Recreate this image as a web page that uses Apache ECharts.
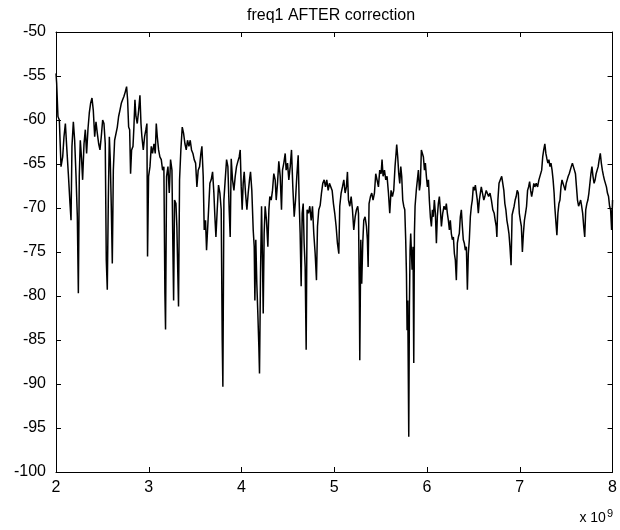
<!DOCTYPE html>
<html>
<head>
<meta charset="utf-8">
<script src="https://cdn.jsdelivr.net/npm/echarts@6/dist/echarts.min.js"></script>
<style>html,body{margin:0;padding:0;background:#fff}#c{width:620px;height:530px}</style>
</head>
<body>
<div id="c"></div>
<script>
// Frequency in units of 1e9 (Hz), values in dB
const freq = [
2.000,2.007,2.021,2.036,2.054,2.072,2.086,2.101,2.115,2.133,2.151,2.162,2.172,2.187,2.201,2.216,2.230,2.241,2.251,2.262,
2.276,2.287,2.302,2.316,2.330,2.345,2.359,2.373,2.388,2.402,2.417,2.431,2.445,2.460,2.474,2.488,2.503,2.517,2.531,2.542,
2.553,2.564,2.575,2.585,2.596,2.607,2.618,2.632,2.646,2.661,2.675,2.689,2.704,2.718,2.733,2.747,2.761,2.772,2.783,2.794,
2.804,2.815,2.830,2.840,2.851,2.862,2.876,2.891,2.905,2.916,2.926,2.941,2.955,2.969,2.980,2.987,2.998,3.013,3.027,3.041,
3.056,3.070,3.081,3.092,3.106,3.120,3.135,3.149,3.163,3.174,3.181,3.192,3.207,3.221,3.235,3.250,3.260,3.268,3.278,3.293,
3.303,3.314,3.321,3.332,3.346,3.361,3.375,3.390,3.404,3.418,3.433,3.447,3.461,3.476,3.490,3.505,3.519,3.533,3.548,3.562,
3.573,3.587,3.598,3.612,3.623,3.630,3.645,3.659,3.673,3.688,3.702,3.713,3.724,3.738,3.752,3.767,3.781,3.792,3.799,3.810,
3.824,3.839,3.853,3.867,3.878,3.889,3.903,3.918,3.932,3.946,3.961,3.975,3.986,3.997,4.007,4.018,4.029,4.043,4.058,4.072,
4.086,4.097,4.111,4.126,4.137,4.144,4.154,4.165,4.176,4.187,4.194,4.205,4.216,4.226,4.234,4.244,4.255,4.269,4.284,4.295,
4.305,4.320,4.334,4.348,4.363,4.374,4.388,4.402,4.417,4.431,4.442,4.456,4.471,4.481,4.496,4.510,4.525,4.539,4.553,4.568,
4.582,4.596,4.611,4.621,4.632,4.643,4.654,4.665,4.675,4.686,4.697,4.707,4.722,4.736,4.751,4.765,4.779,4.794,4.808,4.819,
4.833,4.848,4.862,4.876,4.891,4.905,4.919,4.934,4.948,4.962,4.977,4.991,5.005,5.020,5.034,5.049,5.059,5.074,5.088,5.103,
5.117,5.131,5.142,5.153,5.167,5.182,5.196,5.210,5.225,5.239,5.253,5.261,5.271,5.275,5.286,5.296,5.307,5.318,5.332,5.347,
5.357,5.365,5.375,5.390,5.404,5.418,5.433,5.447,5.461,5.476,5.490,5.505,5.515,5.526,5.541,5.555,5.569,5.584,5.598,5.612,
5.627,5.641,5.655,5.666,5.673,5.684,5.695,5.706,5.717,5.727,5.738,5.749,5.760,5.770,5.778,5.785,5.792,5.803,5.810,5.817,
5.824,5.831,5.839,5.849,5.857,5.864,5.871,5.885,5.896,5.907,5.918,5.928,5.939,5.950,5.961,5.972,5.982,5.993,6.004,6.015,
6.025,6.036,6.047,6.058,6.068,6.079,6.090,6.101,6.111,6.122,6.133,6.144,6.155,6.169,6.183,6.198,6.208,6.219,6.230,6.241,
6.251,6.262,6.273,6.284,6.295,6.305,6.316,6.327,6.338,6.348,6.359,6.370,6.381,6.391,6.402,6.413,6.424,6.435,6.445,6.456,
6.467,6.478,6.488,6.499,6.510,6.521,6.532,6.542,6.553,6.564,6.575,6.585,6.597,6.612,6.623,6.638,6.649,6.664,6.679,6.694,
6.709,6.724,6.735,6.746,6.753,6.764,6.776,6.790,6.805,6.816,6.828,6.839,6.850,6.861,6.872,6.883,6.894,6.906,6.917,6.928,
6.939,6.950,6.961,6.972,6.984,6.995,7.006,7.017,7.028,7.039,7.050,7.062,7.073,7.084,7.095,7.106,7.117,7.128,7.140,7.151,
7.162,7.177,7.192,7.206,7.221,7.236,7.247,7.258,7.270,7.281,7.292,7.303,7.314,7.325,7.336,7.348,7.359,7.370,7.377,7.388,
7.400,7.411,7.422,7.433,7.444,7.455,7.466,7.478,7.489,7.500,7.511,7.522,7.533,7.544,7.555,7.567,7.578,7.589,7.600,7.611,
7.622,7.634,7.645,7.656,7.667,7.678,7.689,7.700,7.711,7.723,7.734,7.745,7.756,7.767,7.778,7.789,7.801,7.812,7.823,7.834,
7.845,7.856,7.868,7.879,7.890,7.901,7.912,7.923,7.934,7.945,7.957,7.968,7.979,7.990,8.000
];
const level = [
-54.7,-55.8,-59.6,-60.0,-65.3,-64.2,-61.9,-60.4,-63.0,-66.1,-69.5,-71.4,-63.0,-60.2,-62.3,-66.4,-71.0,-79.7,-66.4,-62.3,
-64.5,-66.8,-62.7,-61.1,-63.8,-61.0,-59.2,-58.1,-57.5,-58.9,-61.9,-60.2,-61.5,-62.7,-63.4,-61.9,-60.0,-60.4,-62.7,-75.9,
-79.3,-69.1,-61.9,-64.5,-69.8,-76.3,-65.7,-62.3,-62.5,-60.8,-59.6,-58.9,-58.1,-57.7,-57.3,-56.8,-56.2,-57.7,-60.8,-61.1,
-66.1,-63.4,-63.0,-60.8,-57.7,-59.6,-60.4,-58.9,-57.2,-60.4,-61.9,-63.4,-61.9,-61.1,-60.4,-75.5,-66.4,-65.3,-63.0,-63.8,
-62.7,-63.8,-60.4,-61.9,-63.4,-64.2,-64.5,-65.7,-65.3,-79.7,-83.8,-66.4,-65.3,-68.3,-64.5,-65.7,-74.4,-80.5,-69.1,-69.5,
-72.1,-77.8,-81.2,-66.8,-63.4,-60.8,-61.5,-62.7,-63.4,-62.3,-63.0,-62.3,-63.4,-63.8,-64.5,-64.9,-67.6,-65.7,-65.3,-63.8,
-63.0,-66.4,-72.5,-71.4,-74.8,-74.8,-70.2,-67.2,-66.8,-65.9,-68.3,-71.0,-73.3,-70.2,-67.4,-68.3,-70.2,-85.0,-90.3,-69.1,
-66.8,-64.5,-65.3,-70.2,-73.3,-64.4,-66.8,-68.0,-66.4,-65.3,-64.7,-64.2,-63.4,-67.6,-70.2,-67.2,-65.9,-68.3,-70.2,-68.3,
-66.8,-65.9,-68.0,-72.5,-74.4,-80.5,-73.6,-78.6,-82.0,-85.8,-88.8,-77.4,-69.8,-75.9,-82.0,-72.9,-69.8,-71.4,-74.4,-70.2,
-68.7,-69.1,-68.0,-66.1,-66.8,-69.1,-67.2,-64.7,-66.4,-70.2,-65.7,-64.9,-63.8,-65.7,-64.9,-66.8,-65.3,-63.4,-67.6,-71.0,
-69.1,-66.4,-64.0,-69.1,-72.9,-78.9,-70.6,-69.5,-74.0,-76.7,-86.1,-70.2,-70.6,-69.8,-71.4,-69.8,-72.9,-75.2,-78.2,-72.1,
-70.2,-69.7,-68.3,-67.2,-66.8,-67.6,-66.8,-68.0,-67.2,-67.0,-68.0,-69.5,-70.6,-72.1,-74.0,-75.2,-69.8,-68.3,-67.6,-66.8,
-68.3,-67.6,-65.9,-69.1,-69.8,-68.7,-70.2,-72.5,-71.0,-70.2,-69.8,-70.6,-80.5,-87.3,-73.6,-78.6,-74.0,-71.4,-71.0,-72.1,
-73.6,-76.7,-69.5,-68.7,-68.3,-69.1,-68.3,-66.1,-66.8,-67.6,-65.7,-66.1,-64.5,-66.4,-65.7,-66.8,-66.4,-68.3,-70.6,-68.0,
-68.7,-68.0,-65.3,-63.8,-62.8,-64.2,-66.1,-67.2,-65.3,-66.4,-69.1,-69.8,-70.2,-73.6,-77.4,-83.9,-80.5,-96.0,-81.2,-74.8,
-72.9,-74.8,-77.0,-74.4,-87.6,-72.9,-69.8,-67.9,-66.8,-65.7,-68.0,-67.2,-63.4,-63.2,-64.2,-65.7,-64.9,-66.4,-67.6,-66.8,
-69.1,-71.0,-72.1,-70.2,-71.0,-69.1,-70.6,-74.0,-71.0,-69.5,-68.7,-70.2,-72.1,-70.6,-69.8,-70.2,-69.5,-70.6,-71.4,-72.5,
-71.4,-72.9,-73.6,-73.3,-75.2,-75.9,-78.2,-74.0,-73.3,-72.9,-71.0,-70.2,-72.1,-73.6,-74.0,-74.8,-74.4,-79.3,-75.2,-73.6,
-71.0,-69.8,-69.1,-67.6,-68.0,-67.4,-68.3,-69.1,-70.6,-69.1,-68.3,-67.6,-67.6,-69.1,-68.7,-68.0,-68.0,-68.7,-68.3,-69.1,
-70.2,-70.6,-71.4,-72.1,-73.3,-69.1,-67.2,-66.8,-66.4,-66.3,-68.0,-69.5,-70.2,-71.4,-72.1,-72.9,-74.4,-76.5,-70.8,-70.6,
-69.8,-69.1,-68.7,-68.0,-68.3,-70.6,-71.4,-72.1,-75.0,-72.9,-71.4,-70.6,-69.8,-68.0,-67.6,-67.0,-68.0,-68.7,-68.0,-67.2,
-67.6,-67.2,-67.6,-66.8,-66.8,-65.7,-64.2,-63.4,-62.7,-63.8,-64.4,-64.9,-64.5,-65.3,-64.9,-65.7,-66.8,-68.3,-69.8,-71.4,
-73.1,-70.6,-69.5,-69.1,-67.6,-66.8,-67.2,-67.6,-68.0,-67.2,-66.8,-66.4,-66.1,-65.9,-65.3,-64.9,-64.7,-65.7,-66.1,-67.6,
-69.1,-69.8,-69.8,-69.1,-69.8,-70.6,-72.1,-73.3,-70.2,-69.5,-69.1,-68.3,-67.2,-66.1,-65.3,-66.4,-67.2,-66.8,-66.1,-65.7,
-65.3,-64.5,-63.8,-64.9,-65.7,-66.3,-66.8,-66.8,-67.6,-68.3,-68.7,-69.8,-70.2,-72.5,-69.1
];
const xTicks = [2, 3, 4, 5, 6, 7, 8];
const yTicks = [-100, -95, -90, -85, -80, -75, -70, -65, -60, -55, -50];

const data = freq.map((f, i) => [f, level[i]]);
const font = 'Liberation Sans, Arial, sans-serif';
const chart = echarts.init(document.getElementById('c'), null, {renderer: 'canvas'});
const axisLineStyle = {show: true, lineStyle: {color: '#000', width: 1}};
const tickStyle = {show: true, inside: true, length: 5, lineStyle: {color: '#000', width: 1}};
chart.setOption({
  animation: false,
  backgroundColor: '#fff',
  title: {
    text: 'freq1 AFTER correction',
    left: 326, top: 3, textAlign: 'center',
    textStyle: {fontFamily: font, fontSize: 16, fontWeight: 'normal', color: '#000'}
  },
  grid: {left: 56, right: 7, top: 32, bottom: 58, containLabel: false},
  xAxis: [{
    type: 'value', min: xTicks[0], max: xTicks[xTicks.length - 1], interval: 1,
    axisLine: axisLineStyle, axisTick: tickStyle, splitLine: {show: false},
    axisLabel: {color: '#000', fontFamily: font, fontSize: 16, margin: 8}
  }, {
    type: 'value', position: 'top', min: xTicks[0], max: xTicks[xTicks.length - 1], interval: 1,
    axisLine: axisLineStyle, axisTick: tickStyle, splitLine: {show: false}, axisLabel: {show: false}
  }],
  yAxis: [{
    type: 'value', min: yTicks[0], max: yTicks[yTicks.length - 1], interval: 5,
    axisLine: axisLineStyle, axisTick: tickStyle, splitLine: {show: false},
    axisLabel: {color: '#000', fontFamily: font, fontSize: 16, margin: 10}
  }, {
    type: 'value', position: 'right', min: yTicks[0], max: yTicks[yTicks.length - 1], interval: 5,
    axisLine: axisLineStyle, axisTick: tickStyle, splitLine: {show: false}, axisLabel: {show: false}
  }],
  graphic: [{
    type: 'text', right: 7, bottom: 5,
    style: {
      text: 'x 10{s|9}', fill: '#000', font: '14px ' + font,
      rich: {s: {fontSize: 11, verticalAlign: 'top', padding: [0, 0, 9, 1], fontFamily: font}}
    }
  }],
  series: [{
    type: 'line', data: data, xAxisIndex: 0, yAxisIndex: 0,
    showSymbol: false, symbol: 'none',
    lineStyle: {color: '#000', width: 1.5}
  }]
});
</script>
</body>
</html>
